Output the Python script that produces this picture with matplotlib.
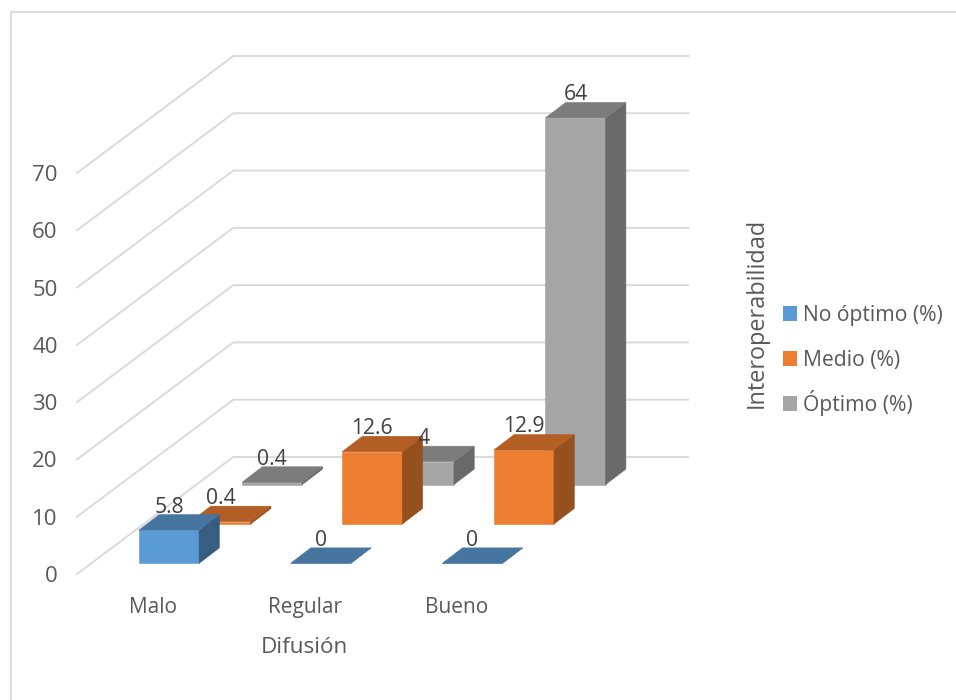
import matplotlib
matplotlib.use("Agg")
import matplotlib.pyplot as plt
from matplotlib.lines import Line2D
from matplotlib.patches import Patch, Polygon

plt.rcParams["font.family"] = ["Open Sans", "DejaVu Sans"]

categories = ["Malo", "Regular", "Bueno"]
series_names = ["No óptimo (%)", "Medio (%)", "Óptimo (%)"]
no_optimo = [5.8, 0, 0]
medio = [0.4, 12.6, 12.9]
optimo = [0.4, 4, 64]
y_ticks = [0, 10, 20, 30, 40, 50, 60, 70]

series = [no_optimo, medio, optimo]
front_colors = ["#5B9BD5", "#ED7D31", "#A5A5A5"]
top_colors = ["#46759F", "#B25E24", "#7C7C7C"]
side_colors = ["#375E80", "#95501E", "#696969"]
GRID = "#D9D9D9"
TEXT = "#595959"
LABEL = "#404040"

# plot area of the front plane, in pixels
W, H = 956, 700
LEFT, RIGHT, BOTTOM, TOP = 77, 532, 574, 173

# one step in depth moves this far, in data units
X_SHEAR = 51.6 / ((RIGHT - LEFT) / 3)
Y_SHEAR = 39.4 / ((BOTTOM - TOP) / 70)

BAR_X = 0.316
BAR_W = 0.397
BAR_Z = 0.27
BAR_D = 0.393
WALL_Z = 2.97
WALL_X = 0.02


def proj(x, v, z):
    return x + z * X_SHEAR, v + z * Y_SHEAR


def draw_bar(ax, i, s, val):
    x0, x1 = i + BAR_X, i + BAR_X + BAR_W
    z0, z1 = s + BAR_Z, s + BAR_Z + BAR_D
    z = 5 + (2 - s) * 3 + i * 0.1
    front = [proj(x0, 0, z0), proj(x1, 0, z0), proj(x1, val, z0), proj(x0, val, z0)]
    side = [proj(x1, 0, z0), proj(x1, 0, z1), proj(x1, val, z1), proj(x1, val, z0)]
    top = [proj(x0, val, z0), proj(x1, val, z0), proj(x1, val, z1), proj(x0, val, z1)]
    for pts, col in [(front, front_colors[s]), (side, side_colors[s]), (top, top_colors[s])]:
        ax.add_patch(Polygon(pts, closed=True, facecolor=col, edgecolor=col, lw=0.4,
                             clip_on=False, zorder=z))
    lx = proj(x0 + BAR_W / 2, val, z0)[0]
    ly = proj(x0, val, z1)[1]
    ax.annotate(str(val), (lx, ly), xytext=(0, 1.5), textcoords="offset points",
                ha="center", va="baseline", fontsize=15.2, color=LABEL, zorder=30,
                annotation_clip=False)


fig = plt.figure(figsize=(W / 100, H / 100), dpi=100)
ax = fig.add_axes([LEFT / W, 1 - BOTTOM / H, (RIGHT - LEFT) / W, (BOTTOM - TOP) / H])
ax.set_xlim(0, 3)
ax.set_ylim(0, 70)
for sp in ax.spines.values():
    sp.set_visible(False)
ax.patch.set_alpha(0)

ax.set_yticks(y_ticks)
ax.set_xticks([0.5, 1.5, 2.5], categories)
ax.tick_params(axis="both", length=0, labelcolor=TEXT)
ax.tick_params(axis="y", pad=14, labelsize=16)
ax.tick_params(axis="x", pad=16.5, labelsize=15)
ax.set_xlabel("Difusión", fontsize=16.2, color=TEXT, labelpad=14)

# floor/side lines and back wall
for v in y_ticks:
    gx, gy = zip(proj(0, v, 0), proj(WALL_X, v, WALL_Z), proj(3 + WALL_X, v, WALL_Z))
    ax.plot(gx, gy, color=GRID, lw=1.35, clip_on=False, zorder=1, solid_joinstyle="round")

for s in range(2, -1, -1):
    for i in range(len(categories)):
        draw_bar(ax, i, s, series[s][i])

fig.text(757 / W, 1 - 312.5 / H, "Interoperabilidad", rotation=90, ha="center", va="center",
         fontsize=16.9, color=TEXT)

# one legend per row, the Ó would stretch its row in a shared one
for k, name in enumerate(series_names):
    patch = Patch(facecolor=front_colors[k], edgecolor=front_colors[k], lw=0)
    fig.legend([patch], [name], loc="lower left", bbox_to_anchor=(783 / W, 1 - (326 + 45 * k) / H),
               frameon=False, fontsize=15.2, labelcolor=TEXT, handlelength=0.66, handleheight=0.66,
               handletextpad=0.28, borderpad=0, borderaxespad=0)

# chart border, only top and left are in view
fig.add_artist(Line2D([11 / W, 11 / W, 1], [0, 1 - 11.5 / H, 1 - 11.5 / H], color=GRID, lw=1.3))

fig.savefig("out.png", dpi=100)
